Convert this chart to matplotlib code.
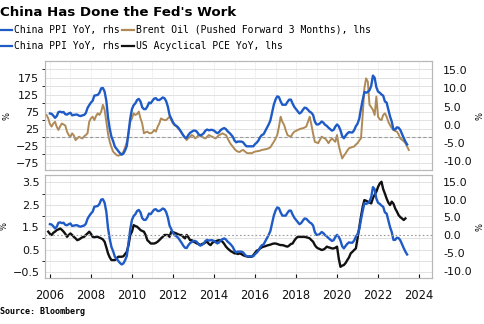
import numpy as np
import pandas as pd
import matplotlib
matplotlib.use("Agg")
import matplotlib.pyplot as plt
from matplotlib.lines import Line2D
from matplotlib.ticker import MultipleLocator, FormatStrFormatter

# China PPI YoY %, monthly from Jan 2006
ppi = [
    3.1, 3.0, 2.5, 1.9, 2.4, 3.5, 3.6, 3.4, 3.5, 2.9, 2.8, 3.1,
    3.3, 2.6, 2.7, 2.8, 2.8, 2.5, 2.4, 2.6, 2.7, 3.2, 4.6, 5.4,
    6.1, 6.6, 8.0, 8.1, 8.2, 8.8, 10.0, 10.1, 9.1, 6.6, 2.0, -1.1,
    -3.3, -4.5, -6.0, -6.6, -7.2, -7.8, -8.2, -7.9, -7.0, -5.8, -2.1, 1.7,
    4.3, 5.4, 5.9, 6.8, 7.1, 6.4, 4.8, 4.3, 4.3, 5.0, 6.1, 5.9,
    6.6, 7.2, 7.3, 6.8, 6.8, 7.1, 7.5, 7.3, 6.5, 5.0, 2.7, 1.7,
    0.7, 0.0, -0.3, -0.7, -1.4, -2.1, -2.9, -3.5, -3.6, -2.8, -2.2, -1.9,
    -1.6, -1.6, -1.9, -2.6, -2.9, -2.7, -2.3, -1.6, -1.3, -1.5, -1.4, -1.4,
    -1.6, -2.0, -2.3, -2.0, -1.4, -1.1, -0.9, -1.2, -1.8, -2.2, -2.7, -3.3,
    -4.3, -4.8, -4.6, -4.6, -4.6, -4.8, -5.4, -5.9, -5.9, -5.9, -5.9, -5.9,
    -5.3, -4.9, -4.3, -3.4, -2.8, -2.6, -1.7, -0.8, 0.1, 1.2, 3.3, 5.5,
    6.9, 7.8, 7.6, 6.4, 5.5, 5.5, 5.5, 6.3, 6.9, 6.9, 5.8, 4.9,
    4.3, 3.7, 3.1, 3.4, 4.1, 4.7, 4.6, 4.1, 3.6, 3.3, 2.7, 0.9,
    0.1, 0.1, 0.4, 0.9, 0.6, 0.0, -0.3, -0.8, -1.2, -1.6, -1.4, -0.5,
    0.1, -0.4, -1.5, -3.1, -3.7, -3.0, -2.4, -2.0, -2.1, -2.1, -1.5, -0.4,
    0.3, 1.7, 4.4, 6.8, 9.0, 8.8, 9.0, 9.5, 10.7, 13.5, 12.9, 10.3,
    9.1, 8.8, 8.3, 8.0, 6.4, 6.1, 4.2, 2.3, 0.9, -1.3, -1.3, -0.7,
    -0.8, -1.4, -2.5, -3.6, -4.6, -5.4,
]

# Brent oil YoY %, pushed forward 3 months, monthly from Nov 2005
brent = [
    65, 55,
    38, 31, 40, 45, 30, 21, 32, 40, 37, 34, 16, 6,
    1, 11, 5, -9, -4, 1, -2, -4, 2, 6, 11, 45,
    55, 60, 50, 62, 70, 65, 75, 95, 80, 45, 10, -14,
    -30, -43, -48, -53, -55, -53, -50, -43, -30, -14, 10, 45,
    55, 70, 65, 68, 75, 55, 40, 11, 14, 16, 12, 11,
    14, 21, 16, 30, 40, 55, 52, 50, 50, 55, 60, 50,
    40, 35, 31, 25, 21, 12, 6, -2, -9, -3, 1, 6,
    3, -4, 0, 6, 3, 1, -2, -4, 1, 6, 3, 1,
    -2, -4, 1, 6, 8, 11, 8, 6, -4, -14, -22, -28,
    -35, -40, -43, -44, -40, -38, -42, -46, -48, -47, -48, -45,
    -43, -42, -41, -40, -38, -37, -36, -35, -33, -30, -22, -14,
    -5, 6, 30, 60, 45, 36, 20, 6, 3, 1, 10, 16,
    18, 21, 23, 25, 26, 28, 31, 45, 60, 36, 10, -14,
    -16, -18, -8, 1, -2, -4, -10, -18, -10, -4, -9, -14,
    6, -25, -45, -63, -55, -48, -40, -33, -31, -29, -28, -22,
    -18, -10, -4, 65, 144, 173, 163, 95, 88, 80, 65, 119,
    60, 52, 50, 65, 70, 60, 45, 35, 27, 21, 18, 16,
    8, -4, -8, -12, -18, -28, -38,
]

# US acyclical core PCE YoY %, monthly from Dec 2005
pce = [
    1.30,
    1.20, 1.15, 1.25, 1.30, 1.37, 1.40, 1.44, 1.38, 1.30, 1.20, 1.07, 1.15,
    1.22, 1.15, 1.07, 1.00, 0.92, 0.95, 1.00, 1.05, 1.07, 1.15, 1.22, 1.30,
    1.20, 1.07, 1.05, 1.07, 1.07, 1.03, 1.00, 0.95, 0.85, 0.60, 0.33, 0.15,
    0.03, 0.03, 0.03, 0.10, 0.18, 0.18, 0.18, 0.20, 0.30, 0.40, 0.70, 1.15,
    1.30, 1.59, 1.55, 1.52, 1.45, 1.37, 1.33, 1.30, 1.15, 0.92, 0.85, 0.77,
    0.77, 0.77, 0.80, 0.85, 0.92, 1.00, 1.07, 1.15, 1.15, 1.15, 1.07, 1.30,
    1.28, 1.25, 1.22, 1.18, 1.15, 1.15, 1.07, 1.00, 1.15, 1.05, 0.92, 0.92,
    0.85, 0.82, 0.77, 0.75, 0.70, 0.75, 0.77, 0.82, 0.85, 0.75, 0.70, 0.80,
    0.85, 0.87, 0.90, 0.92, 0.90, 0.85, 0.75, 0.63, 0.55, 0.48, 0.42, 0.38,
    0.33, 0.33, 0.30, 0.33, 0.30, 0.25, 0.22, 0.20, 0.18, 0.18, 0.18, 0.25,
    0.35, 0.45, 0.48, 0.55, 0.60, 0.63, 0.65, 0.68, 0.70, 0.72, 0.75, 0.77,
    0.77, 0.75, 0.72, 0.70, 0.70, 0.68, 0.65, 0.63, 0.68, 0.75, 0.77, 0.90,
    1.00, 1.07, 1.07, 1.07, 1.07, 1.07, 1.05, 1.03, 1.00, 0.92, 0.85, 0.70,
    0.60, 0.55, 0.52, 0.48, 0.50, 0.55, 0.63, 0.60, 0.58, 0.55, 0.55, 0.58,
    0.63, 0.10, -0.27, -0.22, -0.19, -0.10, 0.03, 0.15, 0.33, 0.40, 0.48, 0.55,
    1.00, 1.50, 1.97, 2.40, 2.71, 2.68, 2.64, 2.60, 2.56, 2.80, 2.95, 3.08,
    3.30, 3.45, 3.53, 3.20, 3.00, 2.78, 2.60, 2.49, 2.64, 2.55, 2.34, 2.20,
    2.04, 1.95, 1.89, 1.82, 1.89,
]

year_ticks = list(range(2006, 2025, 2))


def dec_years(start, n):
    d = pd.date_range(start, periods=n, freq="MS")
    return d.year + (d.month - 1) / 12.0


x_ppi = dec_years("2006-01-01", len(ppi))
x_brent = dec_years("2005-11-01", len(brent))
x_pce = dec_years("2005-12-01", len(pce))

BLUE = "#1f5bc6"
TAN = "#b08a55"
BLACK = "#111111"
GRID = "#e2e2e2"
FRAME = "#b8b8b8"

fig = plt.figure(figsize=(4.85, 3.24), dpi=100)
ax1 = fig.add_axes([45 / 485, 1 - 170 / 324, 387 / 485, 109 / 324])
ax2 = fig.add_axes([45 / 485, 1 - 278 / 324, 387 / 485, 103 / 324])


def style(ax, ax_r):
    ax.set_xlim(2005.76, 2024.63)
    for a in (ax, ax_r):
        for s in a.spines.values():
            s.set_color(FRAME)
            s.set_linewidth(0.8)
        a.tick_params(axis="y", length=0, labelsize=8, colors="#111111")
    ax.tick_params(axis="y", pad=4)
    ax_r.tick_params(axis="y", pad=8)
    ax.xaxis.set_major_locator(MultipleLocator(1))
    ax.grid(axis="x", color=GRID, lw=0.6, ls=(0, (1, 1)))
    ax.grid(axis="y", which="both", color=GRID, lw=0.7)
    ax.set_axisbelow(True)
    ax.set_ylabel("%", fontsize=6, labelpad=3)
    ax_r.set_ylabel("%", fontsize=6, rotation=90, labelpad=3)
    ax_r.yaxis.set_major_formatter(FormatStrFormatter("%.1f"))


# top panel: Brent (lhs) and China PPI (rhs)
ax1r = ax1.twinx()
ax1.plot(x_brent, brent, color=TAN, lw=1.4)
ax1r.plot(x_ppi, ppi, color=BLUE, lw=1.7)
ax1.axhline(0, color="#9a9a9a", lw=0.8, ls=(0, (3, 2)))
ax1.set_ylim(-97, 224)
ax1.set_yticks([175, 125, 75, 25, -25, -75])
ax1.yaxis.set_minor_locator(MultipleLocator(25))
ax1r.set_ylim(-12.4, 17.5)
ax1r.set_yticks([15, 10, 5, 0, -5, -10])
style(ax1, ax1r)
ax1.tick_params(axis="x", which="both", length=0, labelbottom=False)

# bottom panel: US acyclical PCE (lhs) and China PPI (rhs)
ax2r = ax2.twinx()
ax2.plot(x_pce, pce, color=BLACK, lw=1.7)
ax2r.plot(x_ppi, ppi, color=BLUE, lw=1.7)
ax2r.axhline(0, color="#9a9a9a", lw=0.8, ls=(0, (1.5, 2)))
ax2.set_ylim(-0.77, 3.83)
ax2.set_yticks([3.5, 2.5, 1.5, 0.5, -0.5])
ax2.yaxis.set_minor_locator(MultipleLocator(0.5))
ax2r.set_ylim(-12.0, 16.9)
ax2r.set_yticks([15, 10, 5, 0, -5, -10])
style(ax2, ax2r)
ax2.set_xticks(year_ticks, minor=False)
ax2.xaxis.set_minor_locator(MultipleLocator(1))
ax2.grid(axis="x", which="both", color=GRID, lw=0.6, ls=(0, (1, 1)))
ax2.set_xticklabels([str(y) for y in year_ticks])
ax2.tick_params(axis="x", which="major", length=3, direction="in", pad=8,
                labelsize=8.3, colors="#111111")
ax2.tick_params(axis="x", which="minor", length=0)

# title, legend rows and source
fig.text(0.0, 1 - 12.5 / 324, "China Has Done the Fed's Work", fontsize=9.6,
         fontweight="bold", family="DejaVu Sans", va="center", ha="left")


def legend_item(x0, y, color, label):
    yy = 1 - y / 324
    fig.add_artist(Line2D([x0 / 485, (x0 + 12) / 485], [yy, yy], color=color,
                          lw=1.6, transform=fig.transFigure))
    fig.text((x0 + 14) / 485, yy, label, fontsize=7, family="DejaVu Sans Mono",
             va="center", ha="left")


legend_item(0, 30, BLUE, "China PPI YoY, rhs")
legend_item(122, 30, TAN, "Brent Oil (Pushed Forward 3 Months), lhs")
legend_item(0, 46, BLUE, "China PPI YoY, rhs")
legend_item(122, 46, BLACK, "US Acyclical PCE YoY, lhs")

fig.text(0.0, 1 - 312 / 324, "Source: Bloomberg", fontsize=6,
         fontweight="bold", family="DejaVu Sans Mono", va="center", ha="left")

fig.savefig("out.png", dpi=100)
